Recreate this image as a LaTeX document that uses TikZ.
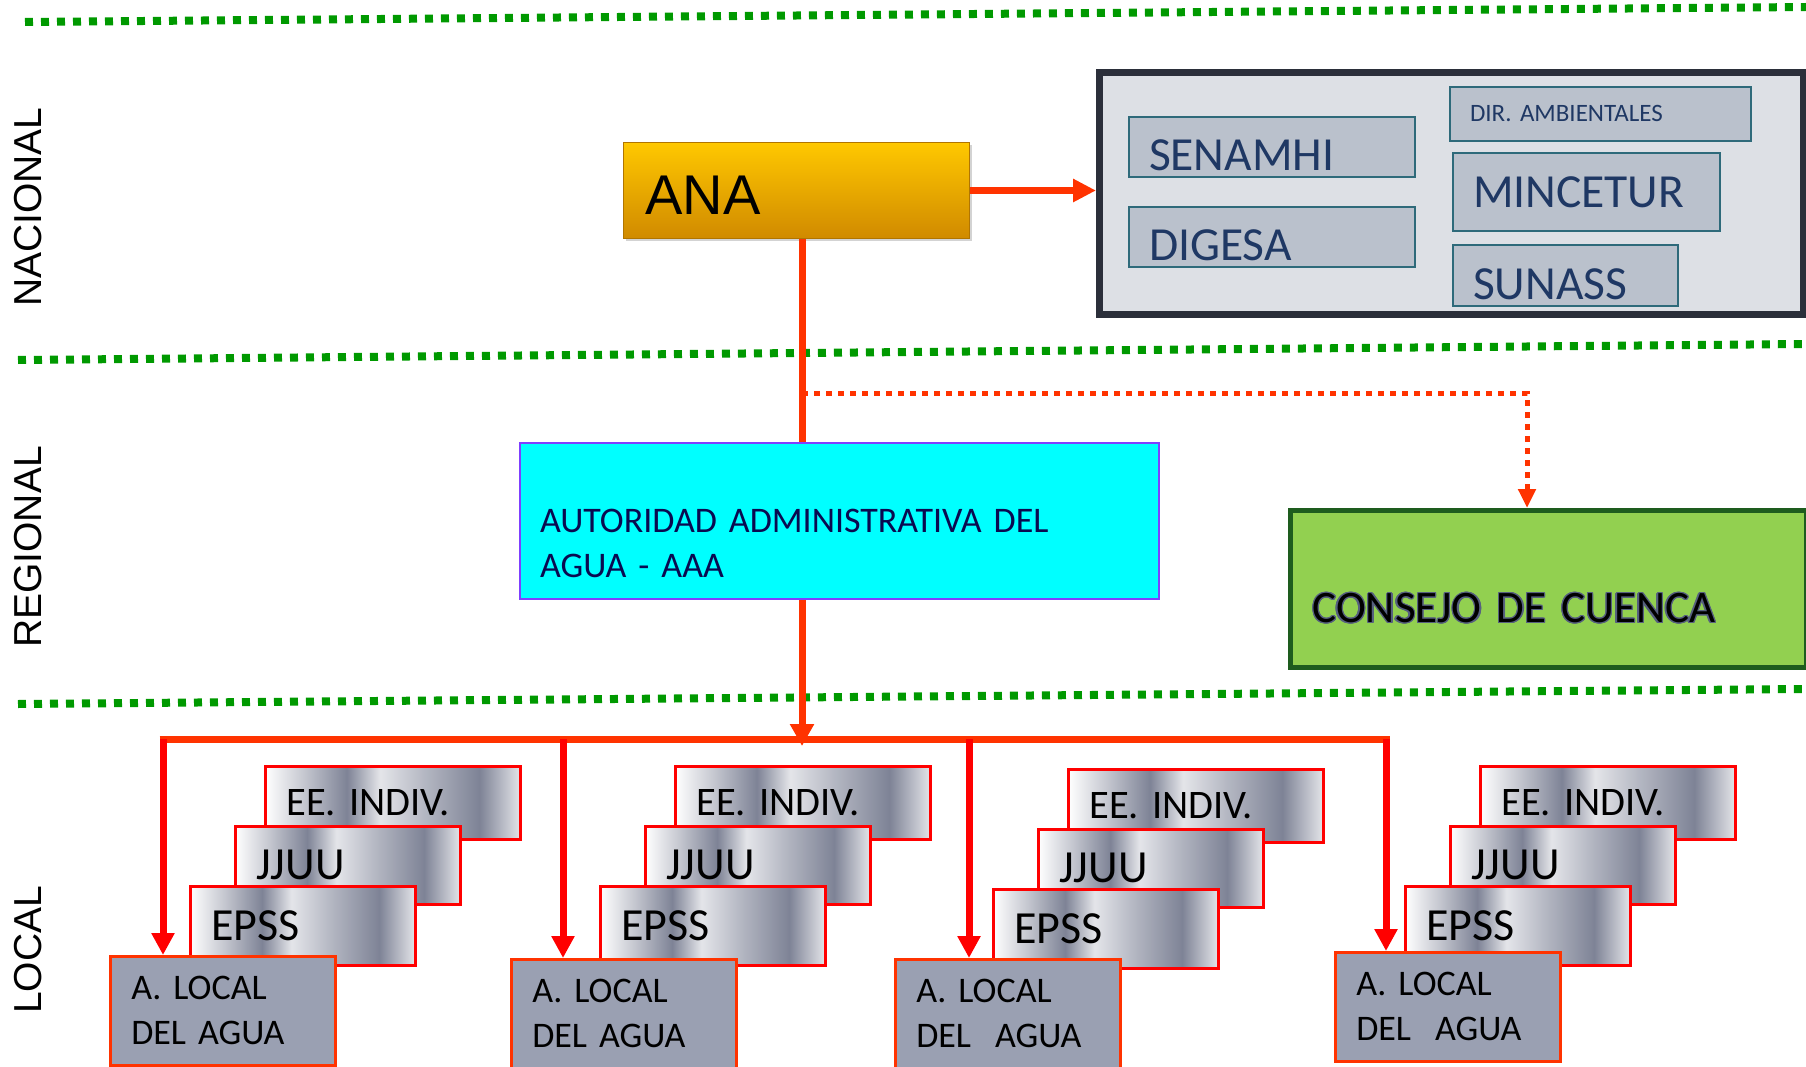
\documentclass[tikz,border=0pt]{standalone}
\usepackage{fontspec}
\setmainfont{Carlito}
\newfontfamily\arialfont{Liberation Sans}
\usepackage{contour}
\contourlength{1.3pt}
\usetikzlibrary{arrows.meta,positioning,shadows}
\frenchspacing

\definecolor{tiergreen}{HTML}{009900}
\definecolor{linkred}{HTML}{FF3300}
\definecolor{dropred}{HTML}{FF0000}
\definecolor{anatop}{HTML}{FFC800}
\definecolor{anabottom}{HTML}{D08A00}
\definecolor{panelfill}{HTML}{DDE0E5}
\definecolor{panelframe}{HTML}{2B2F3A}
\definecolor{orgfill}{HTML}{BAC1CC}
\definecolor{orgframe}{HTML}{2E6A7A}
\definecolor{orgtext}{HTML}{1F3864}
\definecolor{aaafill}{HTML}{00FFFF}
\definecolor{aaaframe}{HTML}{7F3FFF}
\definecolor{aaatext}{HTML}{0A0A50}
\definecolor{cuencafill}{HTML}{92D050}
\definecolor{cuencaframe}{HTML}{1E5C1E}
\definecolor{cuencahalo}{HTML}{56607F}
\definecolor{localfill}{HTML}{9AA0B2}
\definecolor{metaldark}{HTML}{7E8396}
\definecolor{metalmid}{HTML}{B5B8C3}
\definecolor{metallight}{HTML}{E4E5E9}

\pgfdeclarehorizontalshading{metal}{100bp}{color(0bp)=(white); color(25bp)=(white);
  color(32.5bp)=(metallight!70!metaldark); color(41bp)=(metaldark); color(47.5bp)=(metallight);
  color(56bp)=(metalmid); color(67bp)=(metaldark); color(75bp)=(metallight); color(100bp)=(metallight)}

\begin{document}
\begin{tikzpicture}[x=1pt, y=-1pt,
    tierline/.style={tiergreen, line width=8pt, dash pattern=on 8pt off 8pt},
    tiername/.style={rotate=90, font=\arialfont\fontsize{39}{39}\selectfont},
    redlink/.style={linkred, line width=7pt},
    dotlink/.style={linkred, line width=5pt, dash pattern=on 6pt off 6pt, -{Triangle[length=19pt,width=17pt]}},
    droparrow/.style={dropred, line width=7pt, -{Triangle[length=22pt,width=22pt]}},
    anabox/.style={anchor=north west, inner xsep=22pt, inner ysep=0pt, align=left, top color=anatop,
      bottom color=anabottom, draw=anabottom!85!black, line width=1pt,
      drop shadow={shadow xshift=2pt, shadow yshift=-3pt, opacity=0.35},
      font=\arialfont\fontsize{56}{56}\selectfont, text depth=0pt},
    panel/.style={anchor=north west, fill=panelfill, draw=panelframe, line width=5pt},
    orgbox/.style={anchor=north west, fill=orgfill, draw=orgframe, line width=2pt, inner xsep=20pt,
      inner ysep=0pt, align=left, text=orgtext, font=\fontsize{47.5}{50}\selectfont, text depth=0pt},
    aaabox/.style={anchor=north west, fill=aaafill, draw=aaaframe, line width=2pt, inner xsep=20pt,
      inner ysep=0pt, align=left, text=aaatext, font=\fontsize{36}{45}\selectfont},
    cuencabox/.style={anchor=north west, fill=cuencafill, draw=cuencaframe, line width=5pt, inner xsep=22pt,
      inner ysep=0pt, align=left, font=\fontsize{45}{45}\selectfont, text depth=0pt},
    stackbox/.style={anchor=north west, shade, shading=metal, draw=dropred, line width=2.5pt, inner xsep=21pt,
      inner ysep=0pt, align=left, text width=183pt, font=\fontsize{46}{46}\selectfont},
    localbox/.style={anchor=north west, fill=localfill, draw=linkred, line width=2.5pt, inner xsep=21pt,
      inner ysep=0pt, align=left, text width=183pt, minimum height=109pt, font=\fontsize{36}{45}\selectfont}]

  \useasboundingbox (0,0) rectangle (1806,1067);

  % levels
  \draw[tierline] (25,22) -- (1806,7);
  \draw[tierline] (18,360) -- (1806,344);
  \draw[tierline] (18,704) -- (1806,689);
  \node[tiername] (nacional) at (28,207) {NACIONAL};
  \node[tiername] (regional) at (28,547) {REGIONAL};
  \node[tiername] (local) at (28,950) {LOCAL};

  % nacional
  \node[anabox, text width=302pt, minimum height=96pt, text height=48pt] (ana) at (623,142) {ANA};
  \node[panel, minimum width=706pt, minimum height=244pt] (panel) at (1096,69) {};
  \draw[panelframe, line width=1.5pt] ([shift={(6pt,-6pt)}]panel.north west) rectangle ([shift={(-6pt,6pt)}]panel.south east);
  \node[orgbox, text width=246pt, minimum height=60pt, text height=48pt] (senamhi) at (1128,116) {SENAMHI};
  \node[orgbox, text width=246pt, minimum height=60pt, text height=48pt] (digesa) at (1128,206) {DIGESA};
  \node[orgbox, text width=261pt, minimum height=54pt, text height=16pt, font=\fontsize{25}{25}\selectfont] (dirambiental) at (1449,86) {DIR. AMBIENTALES};
  \node[orgbox, text width=227pt, minimum height=78pt, text height=32pt] (mincetur) at (1452,152) {MINCETUR};
  \node[orgbox, text width=185pt, minimum height=61pt, text height=47pt] (sunass) at (1452,244) {SUNASS};

  % regional
  \node[aaabox, text width=599pt, minimum height=156pt] (aaa) at (519,442) {\rule{0pt}{69pt}AUTORIDAD ADMINISTRATIVA DEL\\AGUA - AAA};
  \node[cuencabox, text width=472pt, minimum height=157pt, text height=67pt] (consejo) at (1288,508) {\contour{cuencahalo}{CONSEJO DE CUENCA}};

  \coordinate (fork) at (802,393);
  \coordinate (bend) at (1527,393);
  \draw[redlink, -{Triangle[length=23pt,width=22pt]}] (ana.east) -- (ana.east -| panel.west);
  \draw[redlink] (fork |- ana.south) -- (fork |- aaa.north);
  \draw[dotlink] (fork) -- (bend) -- (bend |- consejo.north);

  % local
  \coordinate (busleft) at (159.5,739);
  \coordinate (busright) at (1389.5,739);
  \coordinate (busjoin) at (802,746);
  \draw[redlink] (busleft) -- (busright);
  \draw[redlink, -{Triangle[length=22pt,width=23pt]}] (fork |- aaa.south) -- (busjoin);

  \foreach \g/\dx/\ax/\ay/\ex/\ey/\jx/\jy/\ix/\iy/\agua in {
      1/163/109/955/189/885/234/825/264/765/{DEL AGUA},
      2/563/510/958/599/885/644/825/674/765/{DEL AGUA},
      3/969/894/958/992/888/1037/828/1067/768/{DEL\ \ AGUA},
      4/1386/1334/951/1404/885/1449/825/1479/765/{DEL\ \ AGUA}} {
    \node[stackbox, text width=213pt, minimum height=73pt, font=\fontsize{40.5}{40.5}\selectfont] (indiv\g) at (\ix,\iy) {EE. INDIV.};
    \node[stackbox, minimum height=78pt] (jjuu\g) at (\jx,\jy) {JJUU};
    \node[stackbox, minimum height=79pt] (epss\g) at (\ex,\ey) {EPSS};
    \node[localbox] (alocal\g) at (\ax,\ay) {A. LOCAL\\\agua};
    \coordinate (tap\g) at (\dx,739);
    \draw[droparrow] (tap\g) -- (tap\g |- alocal\g.north);
  }
\end{tikzpicture}
\end{document}
